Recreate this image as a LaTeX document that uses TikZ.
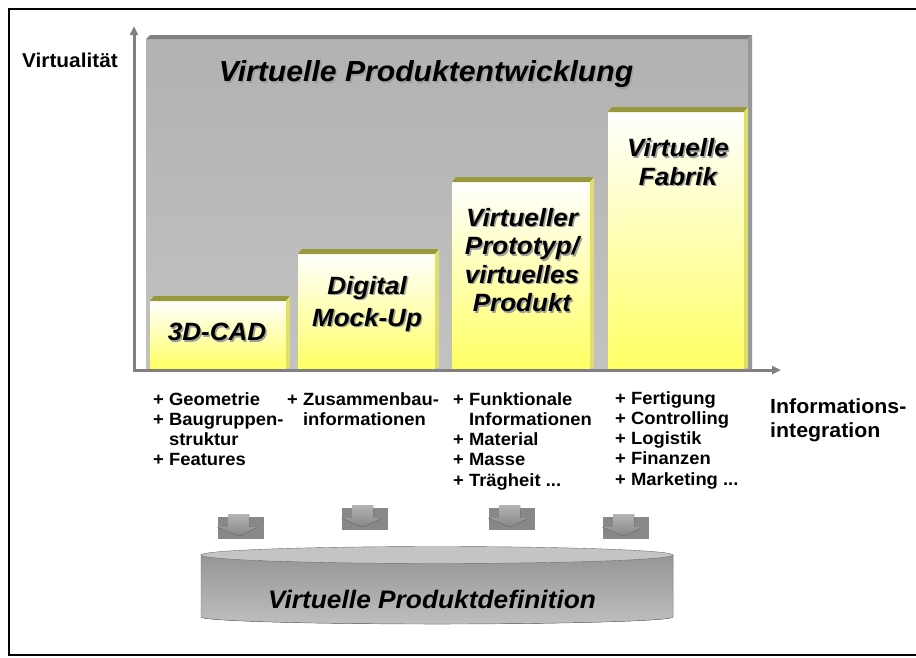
\documentclass[tikz,border=0pt]{standalone}
\usepackage{fontspec}
\setmainfont{Liberation Sans}[FakeStretch=1.04]
\usetikzlibrary{arrows.meta}

\definecolor{panelhigh}{RGB}{178,178,178}
\definecolor{panellow}{RGB}{194,194,194}
\definecolor{paneltop}{RGB}{128,128,128}
\definecolor{panelside}{RGB}{152,152,152}
\definecolor{axisgray}{RGB}{128,128,128}
\definecolor{barolive}{RGB}{153,153,60}
\definecolor{barside}{RGB}{224,224,100}
\definecolor{baryellow}{RGB}{255,255,100}
\definecolor{arrowbox}{RGB}{136,136,136}
\definecolor{arrowlight}{RGB}{180,180,180}
\definecolor{arrowdark}{RGB}{135,135,135}
\definecolor{cylhigh}{RGB}{150,150,150}
\definecolor{cyllow}{RGB}{190,190,190}
\definecolor{cyltop}{RGB}{196,196,196}
\definecolor{cylline}{RGB}{110,110,110}

\tikzset{
  axis/.style={line width=3pt, axisgray, line cap=rect, -{Triangle[length=9pt,width=8pt]}},
  titletext/.style={font=\bfseries\itshape\fontsize{29}{32}\selectfont, inner sep=0pt},
  bartext/.style={font=\bfseries\itshape\fontsize{25}{28.5}\selectfont, align=center, inner sep=0pt},
  listtext/.style={font=\bfseries\fontsize{17.7}{20.3}\selectfont, align=left, anchor=north west, inner sep=0pt},
  shadowed/.style={text=gray!75, xshift=1.5pt, yshift=-1.5pt},
}

\begin{document}
\begin{tikzpicture}[x=1pt, y=-1pt]
  \useasboundingbox (0,0) rectangle (916,657);
  \draw[line width=1.5pt] (9,9) rectangle (930,655);

  % grey back panel
  \fill[top color=panelhigh, bottom color=panellow] (146,39) rectangle (748,370);
  \fill[paneltop] (146,39) -- (150,35) -- (752,35) -- (748,39) -- cycle;
  \fill[panelside] (748,39) -- (752,35) -- (752,370) -- (748,370) -- cycle;
  \node[titletext, shadowed] (title-shadow) at (426,74) {Virtuelle Produktentwicklung};
  \node[titletext] (title) at (426,74) {Virtuelle Produktentwicklung};

  % yellow bars
  \foreach \xa/\xb/\t in {150/290/296, 298/439/249, 452/594/177, 608/748/107} {
    \fill[top color=white, bottom color=baryellow] (\xa,{\t+5}) rectangle ({\xb-4},368);
    \fill[barolive] (\xa,{\t+5}) -- ({\xa+4},\t) -- (\xb,\t) -- ({\xb-4},{\t+5}) -- cycle;
    \fill[barside] ({\xb-4},{\t+5}) -- (\xb,\t) -- (\xb,368) -- ({\xb-4},368) -- cycle;
  }

  \node[bartext, shadowed] (cad-shadow) at (217,332) {3D-CAD};
  \node[bartext] (cad) at (217,332) {3D-CAD};
  \node[bartext, shadowed, font=\bfseries\itshape\fontsize{25}{32}\selectfont] (dmu-shadow) at (367,304) {Digital\\Mock-Up};
  \node[bartext, font=\bfseries\itshape\fontsize{25}{32}\selectfont] (dmu) at (367,304) {Digital\\Mock-Up};
  \node[bartext, shadowed] (proto-shadow) at (522,260) {Virtueller\\Prototyp/\\virtuelles\\Produkt};
  \node[bartext] (proto) at (522,260) {Virtueller\\Prototyp/\\virtuelles\\Produkt};
  \node[bartext, shadowed] (fabrik-shadow) at (678,162) {Virtuelle\\Fabrik};
  \node[bartext] (fabrik) at (678,162) {Virtuelle\\Fabrik};

  % axes
  \coordinate (origin) at (134,370);
  \coordinate (ytip) at (134,26);
  \coordinate (xtip) at (781,370);
  \draw[axis] (origin) -- (ytip);
  \draw[axis] (origin) -- (xtip);
  \node[font=\bfseries\fontsize{20}{22}\selectfont, anchor=base west, inner sep=0pt] (virt) at (22,67) {Virtualität};
  \node[listtext, font=\bfseries\fontsize{20.5}{24}\selectfont] (info) at (770,398) {Informations-\\integration};

  % feature lists
  \node[listtext] (list-cad) at (153,392) {+~Geometrie\\+~Baugruppen-\\\phantom{+~}struktur\\+ Features};
  \node[listtext] (list-dmu) at (287,392) {+~Zusammenbau-\\\phantom{+~}informationen};
  \node[listtext] (list-proto) at (453,392) {+ Funktionale\\\phantom{+~}Informationen\\+~Material\\+~Masse\\+~Trägheit ...};
  \node[listtext] (list-fabrik) at (615,391) {+~Fertigung\\+~Controlling\\+~Logistik\\+~Finanzen\\+~Marketing ...};

  % block arrows
  \foreach \ax/\ay in {218/517, 342/508, 489/508, 603/517} {
    \fill[arrowbox] (\ax,\ay) rectangle ({\ax+46},{\ay+22});
    \fill[top color=arrowlight, bottom color=arrowdark] ({\ax+10},{\ay-3}) -- ({\ax+31},{\ay-3}) -- ({\ax+31},{\ay+10})
      -- ({\ax+40},{\ay+10}) -- ({\ax+21},{\ay+19}) -- ({\ax-1},{\ay+10}) -- ({\ax+10},{\ay+10}) -- cycle;
  }

  % product definition cylinder
  \fill[top color=cylhigh, bottom color=cyllow] (201,555) -- (201,617)
    arc[start angle=180, end angle=360, x radius=236pt, y radius=7pt] -- (673,555) -- cycle;
  \draw[cylline] (201,555) -- (201,617) arc[start angle=180, end angle=360, x radius=236pt, y radius=7pt] -- (673,555);
  \draw[cylline, fill=cyltop] (437,555) ellipse [x radius=236pt, y radius=8.5pt];
  \node[titletext, font=\bfseries\itshape\fontsize{25.3}{28}\selectfont] (pdef) at (432,599) {Virtuelle Produktdefinition};
\end{tikzpicture}
\end{document}
